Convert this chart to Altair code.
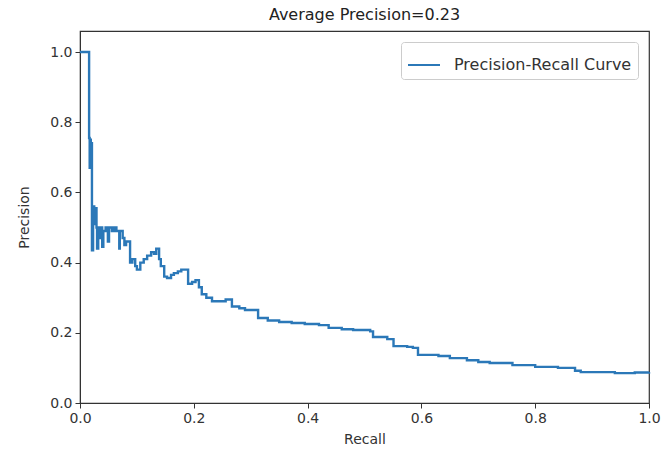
import altair as alt
import pandas as pd

recall = [0.000, 0.016, 0.017, 0.018, 0.019, 0.020, 0.021, 0.023, 0.025, 0.027,
          0.029, 0.030, 0.032, 0.035, 0.037, 0.039, 0.041, 0.045, 0.049, 0.051,
          0.056, 0.060, 0.064, 0.069, 0.070, 0.075, 0.078, 0.081, 0.088, 0.092,
          0.097, 0.100, 0.106, 0.112, 0.118, 0.125, 0.130, 0.134, 0.139, 0.142,
          0.148, 0.153, 0.160, 0.165, 0.172, 0.178, 0.183, 0.190, 0.197, 0.203,
          0.209, 0.214, 0.222, 0.232, 0.245, 0.256, 0.267, 0.280, 0.290, 0.305,
          0.313, 0.330, 0.350, 0.372, 0.395, 0.420, 0.437, 0.460, 0.480, 0.510,
          0.515, 0.540, 0.551, 0.575, 0.585, 0.594, 0.630, 0.650, 0.680, 0.700,
          0.720, 0.760, 0.800, 0.840, 0.870, 0.880, 0.940, 0.975, 1.000]
precision = [1.000, 0.755, 0.670, 0.750, 0.680, 0.740, 0.435, 0.560, 0.510, 0.555,
             0.500, 0.440, 0.500, 0.470, 0.500, 0.445, 0.490, 0.500, 0.460, 0.500,
             0.490, 0.500, 0.490, 0.440, 0.490, 0.470, 0.450, 0.460, 0.400, 0.410,
             0.390, 0.380, 0.400, 0.410, 0.420, 0.430, 0.425, 0.440, 0.410, 0.390,
             0.360, 0.356, 0.365, 0.370, 0.375, 0.380, 0.380, 0.340, 0.345, 0.350,
             0.330, 0.310, 0.300, 0.290, 0.290, 0.295, 0.275, 0.270, 0.265, 0.265,
             0.242, 0.235, 0.231, 0.228, 0.225, 0.222, 0.214, 0.210, 0.208, 0.204,
             0.188, 0.182, 0.162, 0.160, 0.157, 0.137, 0.134, 0.128, 0.122, 0.117,
             0.114, 0.108, 0.103, 0.100, 0.092, 0.088, 0.085, 0.087, 0.088]
series_name = "Precision-Recall Curve"
title_text = "Average Precision=0.23"
ticks = [0.0, 0.2, 0.4, 0.6, 0.8, 1.0]

df = pd.DataFrame({"recall": recall, "precision": precision, "series": series_name})

FONT = "DejaVu Sans"

chart = alt.Chart(df).mark_line(interpolate="step-after", strokeWidth=2.4).encode(
    x=alt.X("recall:Q", scale=alt.Scale(domain=[0, 1], nice=False, zero=False),
            axis=alt.Axis(title="Recall", values=ticks, format=".1f", labelFlush=False,
                          grid=False, titlePadding=7)),
    y=alt.Y("precision:Q", scale=alt.Scale(domain=[0, 1.06], nice=False),
            axis=alt.Axis(title="Precision", values=ticks, format=".1f",
                          grid=False, titlePadding=18)),
    color=alt.Color("series:N", scale=alt.Scale(range=["#2b78b8"]),
                    legend=alt.Legend(title=None, orient="top-right", offset=11,
                                      symbolType="stroke", symbolSize=1024,
                                      symbolStrokeWidth=2, labelFontSize=16,
                                      labelFont=FONT, labelColor="#333",
                                      labelLimit=400,
                                      labelOffset=13, padding=6, cornerRadius=3,
                                      strokeColor="#cccccc", fillColor="white")),
).properties(
    width=569, height=372,
    title=alt.TitleParams(title_text, fontSize=16, font=FONT, fontWeight="normal",
                          color="#222", offset=8),
    padding={"left": 80, "top": 31, "right": 23, "bottom": 58},
    autosize=alt.AutoSizeParams(type="none"),
).configure(
    background="white"
).configure_view(
    stroke="#333", strokeWidth=1.2
).configure_axis(
    labelFont=FONT, labelFontSize=14, labelColor="#333",
    titleFont=FONT, titleFontSize=14, titleColor="#333", titleFontWeight="normal",
    domainColor="#333", tickColor="#333", tickSize=5, labelPadding=3,
)

chart.save("out.html", embed_options={"renderer": "svg", "actions": False})
